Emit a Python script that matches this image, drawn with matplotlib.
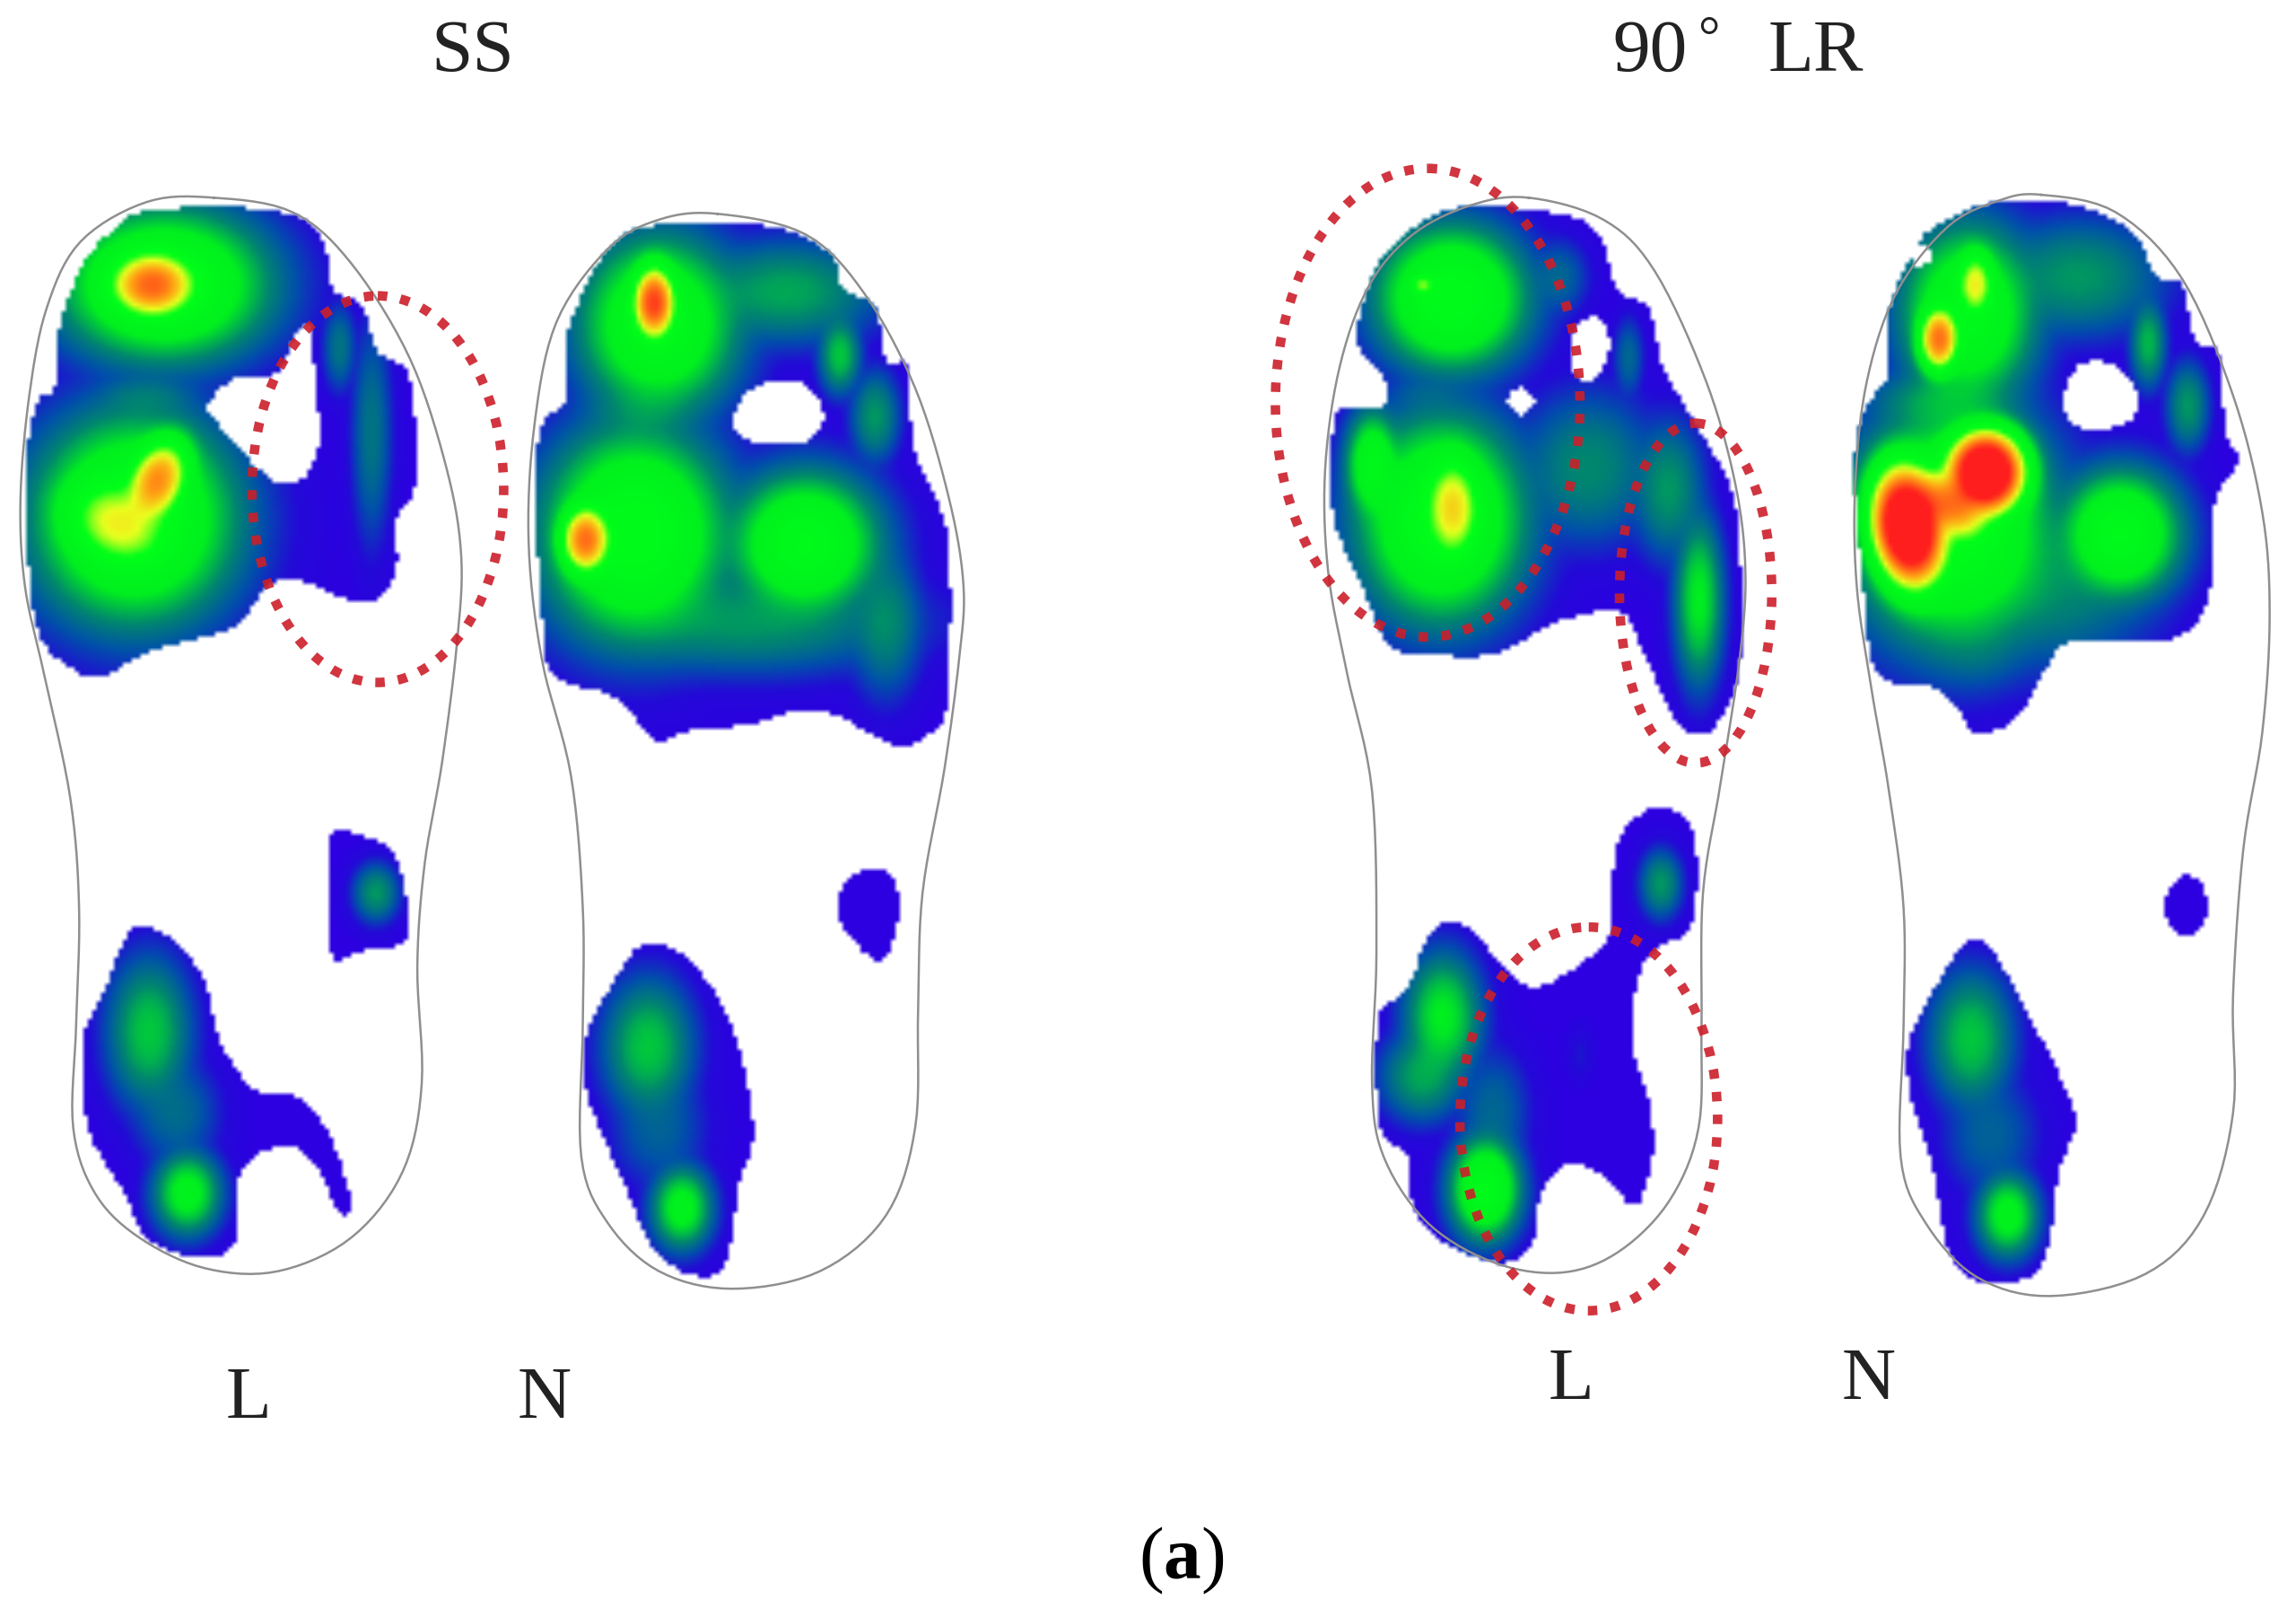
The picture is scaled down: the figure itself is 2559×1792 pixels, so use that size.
#!/usr/bin/env python3
"""Plantar pressure maps, SS vs 90 deg LR, left (L) and right (N) foot."""

import numpy as np
import matplotlib
matplotlib.use('Agg')
import matplotlib.pyplot as plt
from matplotlib.colors import LinearSegmentedColormap
from matplotlib.patches import Ellipse
from matplotlib.path import Path

plt.rcParams['font.family'] = ['Liberation Serif', 'DejaVu Serif']
plt.rcParams['mathtext.fontset'] = 'custom'
plt.rcParams['mathtext.rm'] = 'Liberation Serif'
plt.rcParams['mathtext.bf'] = 'Liberation Serif:bold'

W, H = 1568, 1098  # picture units

# ---- foot outlines (thin grey line)
ss_l_outline = [(146,135),(200,145),(240,180),(280,245),(305,320),(315,380),(312,440),(302,520),(290,590),
                (285,660),(288,740),(275,800),(240,845),(190,868),(140,866),(95,845),(65,815),(50,770),
                (52,700),(54,620),(48,545),(30,460),(17,400),(14,340),(20,270),(32,210),(55,165),(100,138)]
ss_n_outline = [(490,146),(550,160),(590,200),(625,265),(648,340),(658,400),(655,450),(645,525),(630,610),
                (627,690),(625,770),(605,830),(560,868),(500,880),(450,868),(415,835),(397,790),(398,700),
                (398,620),(390,530),(370,450),(361,370),(365,290),(380,220),(415,170),(450,150)]
lr_l_outline = [(1044,135),(1095,150),(1130,185),(1165,260),(1185,330),(1192,390),(1188,450),(1175,535),
                (1163,610),(1162,700),(1160,770),(1140,820),(1105,855),(1066,869),(1020,862),(975,835),
                (945,790),(937,740),(940,650),(937,540),(920,460),(907,390),(905,320),(915,250),(935,195),
                (965,160),(1005,140)]
lr_n_outline = [(1394,133),(1445,145),(1490,190),(1525,270),(1545,350),(1550,420),(1545,500),(1532,580),
                (1525,680),(1525,760),(1505,830),(1465,870),(1400,885),(1350,872),(1315,835),(1298,790),
                (1300,700),(1300,620),(1290,540),(1278,470),(1268,400),(1267,330),(1275,260),(1295,200),
                (1330,155),(1365,137)]

# ---- contact areas (blue edge of the map)
ss_l_areas = [
    [(103,144),(185,144),(219,161),(228,198),(247,209),(258,240),(280,259),(284,331),(271,355),(271,387),
     (258,409),(236,409),(202,396),(181,403),(159,429),(103,445),(73,461),(56,461),(30,440),(21,403),
     (17,323),(26,275),(37,267),(39,230),(56,182),(77,158)],
    [(226,570),(245,570),(270,585),(278,640),(245,650),(228,655),(224,620)],
    [(90,635),(115,640),(140,670),(150,710),(175,745),(205,750),(225,775),(240,820),(232,828),(215,795),
     (195,782),(165,800),(160,850),(130,858),(100,845),(85,815),(60,770),(57,710),(70,680)],
]
ss_l_holes = [[(142,278),(159,260),(189,255),(202,230),(213,225),(215,267),(219,296),(211,323),(194,331),
               (176,320),(150,291)]]
ss_n_areas = [
    [(443,155),(525,155),(568,174),(576,198),(598,209),(606,246),(621,251),(624,304),(641,344),(649,381),
     (647,482),(632,503),(611,509),(559,485),(512,495),(469,500),(447,506),(421,477),(378,461),(370,416),
     (366,336),(370,291),(387,272),(387,230),(413,174)],
    [(580,600),(605,595),(615,620),(605,655),(590,650),(573,625)],
    [(440,645),(470,655),(500,700),(515,770),(505,810),(495,865),(470,870),(445,850),(425,805),(402,750),
     (400,710),(420,670)],
]
ss_n_holes = [[(501,286),(512,267),(538,260),(555,267),(563,286),(550,302),(520,303),(505,296)]]
lr_l_areas = [
    [(993,143),(1048,144),(1090,157),(1106,199),(1127,211),(1136,250),(1152,278),(1182,332),(1189,377),
     (1189,455),(1177,489),(1163,502),(1145,492),(1122,444),(1108,419),(1067,424),(1021,447),(977,447),
     (949,440),(929,396),(912,357),(910,317),(915,281),(945,277),(945,258),(929,239),(929,216),(942,180),
     (965,157)],
    [(1125,554),(1146,554),(1156,566),(1160,597),(1154,636),(1131,648),(1119,670),(1115,713),(1123,738),
     (1129,764),(1129,793),(1121,820),(1113,822),(1103,810),(1080,795),(1062,801),(1050,825),(1048,847),
     (1035,861),(1015,861),(984,847),(965,822),(962,789),(943,769),(942,696),(962,675),(978,636),(1001,632),
     (1027,660),(1042,673),(1062,670),(1099,641),(1101,609),(1107,573)],
]
lr_l_holes = [[(1030,274),(1039,265),(1049,274),(1039,284)],
              [(1081,219),(1094,219),(1100,236),(1090,260),(1076,256),(1074,233)]]
lr_n_areas = [
    [(1362,139),(1417,140),(1458,160),(1472,188),(1491,195),(1500,233),(1516,241),(1521,295),(1530,315),
     (1514,343),(1509,408),(1486,436),(1417,438),(1398,458),(1380,489),(1352,502),(1339,486),(1320,469),
     (1283,461),(1274,408),(1267,323),(1274,281),(1290,256),(1290,216),(1311,166),(1334,149)],
    [(1480,612),(1492,598),(1505,605),(1508,625),(1495,640),(1482,632)],
    [(1345,642),(1362,650),(1390,700),(1412,745),(1418,770),(1407,800),(1402,840),(1390,870),(1355,876),
     (1332,855),(1320,795),(1305,745),(1305,710),(1325,670)],
]
lr_n_holes = [[(1410,272),(1421,250),(1445,250),(1461,272),(1454,289),(1426,294),(1412,284)],
              [(1306,172),(1316,167),(1320,178),(1310,182)]]

# ---- pressure spots: x, y, x radius, y radius, tilt in degrees, peak level
ss_l_spots = [(112,195,66,48,0,.62),(104,195,30,23,0,.90),(92,355,64,66,0,.62),(108,328,20,30,-22,.86),
              (80,358,38,29,-25,.72),(100,272,35,16,0,.30),(254,296,12,66,0,.30),(232,238,10,26,0,.30),
              (257,610,14,18,0,.36),(102,705,26,46,0,.42),(128,815,21,26,0,.50),(120,760,26,32,0,.28)]
ss_n_spots = [(447,207,15,26,0,.95),(450,222,50,56,0,.58),(537,200,58,32,0,.38),(574,243,13,24,0,.42),
              (598,285,15,28,0,.36),(434,365,58,66,0,.62),(400,369,17,24,0,.90),(550,372,47,45,0,.60),
              (605,425,22,45,0,.34),(510,425,100,32,0,.36),(440,280,40,22,0,.32),
              (443,715,28,42,0,.42),(466,825,19,26,0,.50),(450,770,28,36,0,.26)]
lr_l_spots = [(992,204,47,45,0,.62),(972,195,9,8,0,.66),(993,347,19,36,0,.76),(985,355,52,64,0,.62),
              (938,318,17,34,0,.56),(1085,320,42,46,0,.34),(1113,245,9,24,0,.27),(1161,410,15,52,0,.47),
              (1140,335,22,42,0,.36),(1065,190,18,23,0,.27),(975,270,28,13,0,.24),
              (1135,604,13,21,0,.36),(986,695,24,40,0,.47),(972,735,26,28,0,.38),(1015,812,22,32,0,.60),
              (1020,760,22,38,0,.27),(1080,720,8,15,0,.12)]
lr_n_spots = [(1350,194,13,23,0,.75),(1325,232,14,23,0,.90),(1345,215,42,56,0,.58),(1420,190,52,36,0,.36),
              (1468,235,11,27,0,.40),(1495,278,13,27,0,.36),(1304,360,25,42,8,1.15),(1357,323,27,29,0,1.15),
              (1332,345,30,20,-40,.86),(1335,360,62,74,0,.62),(1449,365,38,40,0,.60),(1400,400,66,50,0,.34),
              (1350,440,36,30,0,.28),(1330,275,48,22,0,.38),
              (1347,710,26,42,0,.42),(1372,830,19,26,0,.50),(1360,775,28,36,0,.26)]

# ---- dotted red rings: x, y, half width, half height
rings = [(258,334,86,132),(975,275,104,160),(1158,405,52,116),(1085,764,88,131)]

# ---- texts
title_ss = (323, 36, 'SS')
title_lr = [(1127, 36, '90', 30), (1167, 28, '\N{DEGREE SIGN}', 22), (1240, 36, 'LR', 30)]
foot_labels = [(170,956,'L'),(372,956,'N'),(1073,943,'L'),(1276,943,'N')]
caption = '($\\mathbf{a}$)'

cmap = LinearSegmentedColormap.from_list('pressure', [
    (0.00, (45/255, 0, 225/255)), (0.10, (35/255, 10/255, 215/255)), (0.22, (0, 80/255, 170/255)),
    (0.34, (0, 135/255, 110/255)), (0.47, (0, 240/255, 30/255)), (0.66, (0, 1, 25/255)),
    (0.76, (235/255, 1, 30/255)), (0.86, (1, 160/255, 20/255)), (1.00, (1, 30/255, 30/255))])


def smooth(pts, n=8):
    # closed Catmull-Rom through the read points
    p = np.array(pts, dtype=float)
    out = []
    for i in range(len(p)):
        a, b, c, d = p[i-1], p[i], p[(i+1) % len(p)], p[(i+2) % len(p)]
        for t in np.linspace(0, 1, n, endpoint=False):
            out.append(0.5*(2*b + (c-a)*t + (2*a-5*b+4*c-d)*t**2 + (3*b-a-3*c+d)*t**3))
    return np.array(out)


step = 3
xs = np.arange(0, W, step) + step/2
ys = np.arange(0, H, step) + step/2
gx, gy = np.meshgrid(xs, ys)
pts = np.column_stack([gx.ravel(), gy.ravel()])
canvas = np.ones(gx.shape + (3,))


def paint(areas, holes, spots):
    mask = np.zeros(gx.shape, dtype=bool)
    for poly in areas:
        mask |= Path(smooth(poly)).contains_points(pts).reshape(gx.shape)
    for poly in holes:
        mask &= ~Path(smooth(poly)).contains_points(pts).reshape(gx.shape)
    total = np.zeros(gx.shape)
    for cx, cy, sx, sy, tilt, peak in spots:
        a = np.radians(tilt)
        u = ((gx-cx)*np.cos(a) - (gy-cy)*np.sin(a)) / sx
        v = ((gx-cx)*np.sin(a) + (gy-cy)*np.cos(a)) / sy
        total += (peak*np.exp(-0.5*(u*u+v*v)**1.15))**5
    level = total**(1/5)
    canvas[mask] = cmap(np.clip(level, 0, 1))[mask][:, :3]


paint(ss_l_areas, ss_l_holes, ss_l_spots)
paint(ss_n_areas, ss_n_holes, ss_n_spots)
paint(lr_l_areas, lr_l_holes, lr_l_spots)
paint(lr_n_areas, lr_n_holes, lr_n_spots)

fig = plt.figure(figsize=(2559/200, 1792/200), dpi=200)
ax = fig.add_axes([0, 0, 1, 1])
ax.imshow(canvas, extent=(0, W, H, 0), interpolation='bilinear', aspect='auto', zorder=1)
ax.set_xlim(0, W)
ax.set_ylim(H, 0)
ax.axis('off')

for outline in [ss_l_outline, ss_n_outline, lr_l_outline, lr_n_outline]:
    o = smooth(outline)
    ax.plot(np.append(o[:, 0], o[0, 0]), np.append(o[:, 1], o[0, 1]), color='#8f8f8f', lw=0.9, zorder=2)

for x, y, rx, ry in rings:
    ax.add_patch(Ellipse((x, y), 2*rx, 2*ry, fill=False, edgecolor='#cc1f2a', alpha=0.9,
                         lw=3.8, linestyle=(0, (1, 1.4)), zorder=3))

ax.text(title_ss[0], title_ss[1], title_ss[2], fontsize=30, color='#222222', ha='center', va='center')
for x, y, s, size in title_lr:
    ax.text(x, y, s, fontsize=size, color='#222222', ha='center', va='center')
for x, y, s in foot_labels:
    ax.text(x, y, s, fontsize=30, color='#222222', ha='center', va='center')
ax.text(807, 1066, caption, fontsize=30, color='black', ha='center', va='center')

fig.savefig('out.png', dpi=200)
